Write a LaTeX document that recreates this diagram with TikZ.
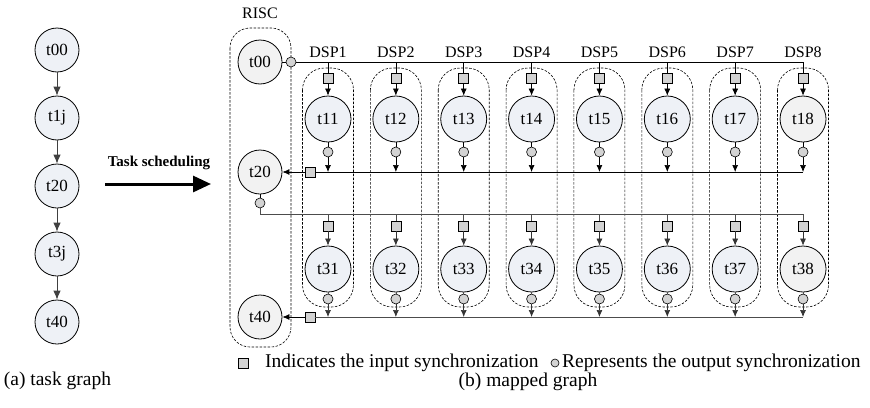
\documentclass[tikz,border=0pt]{standalone}
\usepackage{fontspec}
\setmainfont{Liberation Serif}
\usetikzlibrary{arrows.meta}
\definecolor{taskfill}{HTML}{EEF1F6}
\definecolor{greyfill}{HTML}{F2F2F2}
\definecolor{syncfill}{HTML}{D3D3D3}
\begin{document}
\begin{tikzpicture}[x=1pt,y=-1pt,
  task/.style={circle,draw,line width=0.8pt,fill=taskfill,minimum size=44pt,inner sep=0pt,font=\fontsize{17}{20}\selectfont},
  dtask/.style={task,minimum size=46pt},
  insync/.style={rectangle,draw,fill=syncfill,minimum size=10pt,inner sep=0pt,line width=0.6pt},
  outsync/.style={circle,draw,fill=syncfill,minimum size=10pt,inner sep=0pt,line width=0.6pt},
  arr/.style={-{Latex[length=7pt,width=6pt]},line width=0.7pt},
  bigarr/.style={-{Latex[length=9pt,width=7.5pt]},line width=0.8pt,draw=black!75},
  conn/.style={line width=0.7pt},
  lowconn/.style={line width=0.7pt,draw=black!70},
  grp/.style={draw,dash pattern=on 2.5pt off 1.5pt,rounded corners=22pt,line width=0.6pt},
  lbl/.style={font=\fontsize{16}{19}\selectfont,inner sep=0pt},
  captxt/.style={font=\fontsize{19.5}{23}\selectfont,inner sep=0pt}]

\useasboundingbox (0,0) rectangle (870,407);

% ---------- (a) task graph ----------
\node[task] (a00) at (57,50) {t00};
\node[task] (a1j) at (57,118) {t1j};
\node[task] (a20) at (57,186) {t20};
\node[task] (a3j) at (57,254) {t3j};
\node[task] (a40) at (57,322) {t40};
\draw[bigarr] (a00) -- (a1j);
\draw[bigarr] (a1j) -- (a20);
\draw[bigarr] (a20) -- (a3j);
\draw[bigarr] (a3j) -- (a40);
\node[captxt] (capa) at (57.5,381) {(a) task graph};

% ---------- task scheduling arrow ----------
\node[font=\bfseries\fontsize{15}{18}\selectfont,inner sep=0pt] (ts) at (159,163) {Task scheduling};
\coordinate (as) at (105,184);
\coordinate (ae) at (211,184);
\draw[-{Triangle[length=18pt,width=16pt]},line width=3pt] (as) -- (ae);

% ---------- RISC ----------
\draw[grp,rounded corners=20pt] (230,28) rectangle (291,347);
\node[lbl] (risc) at (260,13) {RISC};
\node[task,fill=greyfill] (t00) at (260,62) {t00};
\node[task,fill=greyfill] (t20) at (260,172) {t20};
\node[task,fill=greyfill] (t40) at (260,317) {t40};
\node[outsync] (o00) at (291,62) {};
\node[outsync] (o20) at (260,203) {};
\node[insync] (sq20) at (310,172) {};
\node[insync] (sq40) at (310,317) {};

% ---------- DSP columns ----------
\foreach \i/\f [evaluate=\i as \x using 328+67.86*(\i-1)] in
  {1/taskfill,2/taskfill,3/taskfill,4/taskfill,5/taskfill,6/taskfill,7/taskfill,8/greyfill} {
  \draw[grp] (\x-25.5,68) rectangle (\x+25.5,307);
  \node[lbl] (dsp\i) at (\x,52) {DSP\i};
  \coordinate (ta\i) at (\x,62);
  \node[insync] (ia\i) at (\x,78) {};
  \node[dtask,fill=\f] (u\i) at (\x,119) {t1\i};
  \node[outsync] (oa\i) at (\x,152) {};
  \coordinate (ca\i) at (\x,172);
  \coordinate (tb\i) at (\x,214);
  \node[insync] (ib\i) at (\x,226) {};
  \node[dtask,fill=\f] (v\i) at (\x,269) {t3\i};
  \node[outsync] (ob\i) at (\x,299) {};
  \coordinate (cb\i) at (\x,317);
  \draw[arr] (ia\i.south) -- (u\i.north);
  \draw[conn] (u\i.south) -- (oa\i.north);
  \draw[arr] (oa\i.south) -- (ca\i);
  \draw[arr,draw=black!80] (ib\i.south) -- (v\i.north);
  \draw[lowconn] (v\i.south) -- (ob\i.north);
  \draw[arr,draw=black!80] (ob\i.south) -- (cb\i);
}
\foreach \i in {1,...,7} {
  \draw[conn] (ta\i) -- (ia\i.north);
  \draw[lowconn] (tb\i) -- (ib\i.north);
}
% broadcast lines
\draw[conn] (t00.east) -- (o00.west);
\draw[conn] (o00.east) -- (ta8) -- (ia8.north);
\draw[conn] (t20.south) -- (o20.north);
\draw[lowconn] (o20.south) |- (tb8) -- (ib8.north);
% gather lines
\draw[conn] (ca8) -- (sq20.east);
\draw[arr] (sq20.west) -- (t20.east);
\draw[lowconn] (cb8) -- (sq40.east);
\draw[arr] (sq40.west) -- (t40.east);

% ---------- legend & caption ----------
\node[insync] (legsq) at (243,363) {};
\node[captxt,anchor=west] (legin) at (265,363) {Indicates the input synchronization};
\node[outsync,minimum size=8pt] (legci) at (555,363) {};
\node[captxt,anchor=west] (legout) at (562,363) {Represents the output synchronization};
\node[captxt] (capb) at (528,382) {(b) mapped graph};
\end{tikzpicture}
\end{document}
